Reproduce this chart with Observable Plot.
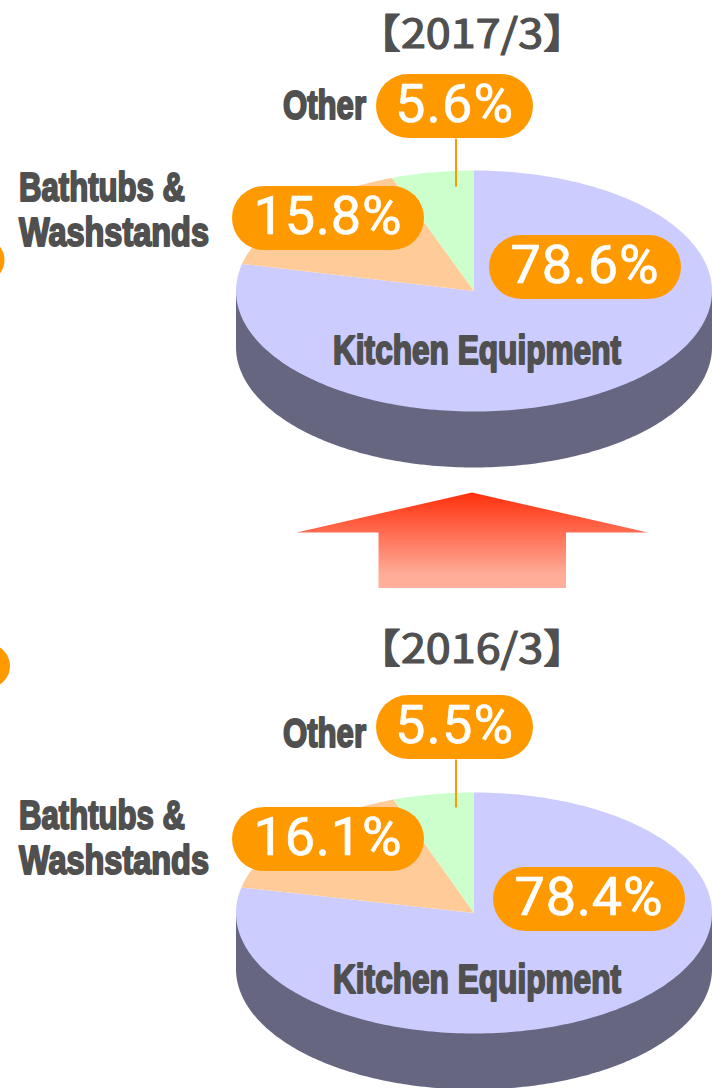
<!DOCTYPE html>
<html>
<head>
<meta charset="utf-8">
<style>html,body{margin:0;padding:0;background:#fff;overflow:hidden}svg{display:block;overflow:hidden}</style>
<script src="https://cdn.jsdelivr.net/npm/d3@7"></script>
<script src="https://cdn.jsdelivr.net/npm/@observablehq/plot@0.6"></script>
</head>
<body>
<div id="chart"></div>
<script>
// ---- data ----
const years = ["【2017/3】", "【2016/3】"];
const kitchen = [78.6, 78.4];
const bathtubs = [15.8, 16.1];
const other = [5.6, 5.5];
const categoryKitchen = "Kitchen Equipment";
const categoryBathtubsLines = ["Bathtubs &", "Washstands"];
const categoryOther = "Other";

// ---- styling / layout ----
const C = {kitchen:"#ccccff", bathtubs:"#ffcc99", other:"#ccffcc", wall:"#666680", pill:"#ff9900", ink:"#505050"};
const pieCY = [290.5, 912.5];
const pieCX = 473.5, rx = 238, ry = 120.5, depth = 56;
const layout = [
  {title:[471.5,47.5], other:[365.5,118.5], bath:[[18.5,200.5],[18.5,245.5]], kit:[332.5,363.5],
   pOther:[376,74], pBath:[232,186], pKit:[489,235], edge:[260,4.5]},
  {title:[471.5,662.5], other:[365.5,746.5], bath:[[18.5,828.5],[18.5,873.5]], kit:[332.5,992.5],
   pOther:[376,695], pBath:[232,807], pKit:[493,867], edge:[666,10]}
];
const pillW = [157,192,192], pillH = 64;

// ---- derived geometry ----
function ell(cy, pct){
  const a = pct/100*2*Math.PI;
  return {x: pieCX + rx*Math.sin(a), y: cy - ry*Math.cos(a)};
}
const slices = [], walls = [];
years.forEach((yr,i)=>{
  const cy = pieCY[i];
  const w = [];
  for(let d=-90;d<=90;d+=1){
    const a = d*Math.PI/180;
    w.push({x: pieCX + rx*Math.sin(a), y: cy + depth + ry*Math.cos(a)});
  }
  walls.push({yr, pts:[{x:pieCX-rx,y:cy},...w,{x:pieCX+rx,y:cy}]});
  const parts = [["k",kitchen[i],C.kitchen],["b",bathtubs[i],C.bathtubs],["o",other[i],C.other]];
  let s = 0;
  for(const [k,v,col] of parts){
    const pts = [{x:pieCX,y:cy}];
    const n = Math.ceil(v*3);
    for(let j=0;j<=n;j++) pts.push(ell(cy, s + v*j/n));
    slices.push({id:k+i, col, pts});
    s += v;
  }
});

function poly(pts, fill){
  return Plot.line(pts,{x:"x",y:"y",fill,stroke:"none",curve:"linear"});
}
function fitted(rows, adjust, opts){
  return Plot.text(rows,{x:"x",y:"y",text:"t",lineAnchor:"bottom",...opts,
    render(index,scales,values,dims,ctx,next){
      const g = next(index,scales,values,dims,ctx);
      d3.select(g).selectAll("text").each(function(_,k){
        this.setAttribute("textLength", rows[index[k]].w);
        this.setAttribute("lengthAdjust",adjust);
      });
      return g;
    }});
}

const titles=[], labels=[], pills=[], pcts=[], edges=[], leaders=[];
years.forEach((yr,i)=>{
  const L = layout[i];
  titles.push({x:L.title[0],y:L.title[1],t:yr,w:232});
  labels.push({x:L.other[0]-83,y:L.other[1],t:categoryOther,w:83});
  labels.push({x:L.bath[0][0],y:L.bath[0][1],t:categoryBathtubsLines[0],w:166});
  labels.push({x:L.bath[1][0],y:L.bath[1][1],t:categoryBathtubsLines[1],w:190});
  labels.push({x:L.kit[0],y:L.kit[1],t:categoryKitchen,w:288});
  [[L.pOther,other[i],0],[L.pBath,bathtubs[i],1],[L.pKit,kitchen[i],2]].forEach(([p,v,j])=>{
    pills.push({x1:p[0],x2:p[0]+pillW[j],y1:p[1],y2:p[1]+pillH});
    pcts.push({x:p[0]+pillW[j]/2-1,y:p[1]+47.5,t:v.toFixed(1)+"%",w:j===0?118:148});
  });
  edges.push({x1:-60,x2:L.edge[1],y1:L.edge[0]-22,y2:L.edge[0]+22});
  leaders.push({x:455.5,y1:L.pOther[1]+pillH,y2:L.pOther[1]+pillH+48});
});

const arrow = [{x:471.5,y:492},{x:647.5,y:532},{x:565.5,y:532},{x:565.5,y:587.5},{x:378,y:587.5},{x:378,y:532},{x:296,y:532}];

const chart = Plot.plot({
  width:712, height:1088, margin:0,
  x:{domain:[0,712],range:[0,712],axis:null},
  y:{domain:[0,1088],range:[0,1088],axis:null},
  marks:[
    () => {
      const s = d3.create("svg:defs");
      const g = s.append("linearGradient").attr("id","arrowGrad").attr("x1",0).attr("x2",0).attr("y1",0).attr("y2",1);
      g.append("stop").attr("offset","0%").attr("stop-color","#ff2f0c");
      g.append("stop").attr("offset","85%").attr("stop-color","#ffab97");
      g.append("stop").attr("offset","100%").attr("stop-color","#ffb09c");
      return s.node();
    },
    ...walls.map(w=>poly(w.pts,C.wall)),
    ...slices.map(s=>poly(s.pts,s.col)),
    poly(arrow,"url(#arrowGrad)"),
    Plot.link(leaders,{x1:"x",x2:"x",y1:"y1",y2:"y2",stroke:C.pill,strokeWidth:2}),
    Plot.rect(pills,{x1:"x1",x2:"x2",y1:"y1",y2:"y2",fill:C.pill,rx:32}),
    Plot.rect(edges,{x1:"x1",x2:"x2",y1:"y1",y2:"y2",fill:C.pill,rx:22}),
    fitted(titles,"spacingAndGlyphs",{fontFamily:"'Noto Sans CJK JP'",fontSize:40,fill:C.ink,stroke:C.ink,strokeWidth:1.2,textAnchor:"middle"}),
    fitted(labels,"spacingAndGlyphs",{fontFamily:"'Liberation Sans Narrow','Liberation Sans'",fontWeight:"bold",fontSize:40,fill:C.ink,stroke:C.ink,strokeWidth:2,textAnchor:"start"}),
    fitted(pcts,"spacing",{fontFamily:"Roboto",fontSize:54,fill:"#fff",stroke:"#fff",strokeWidth:0.7,textAnchor:"middle"})
  ]
});
document.getElementById("chart").append(chart);
</script>
</body>
</html>
